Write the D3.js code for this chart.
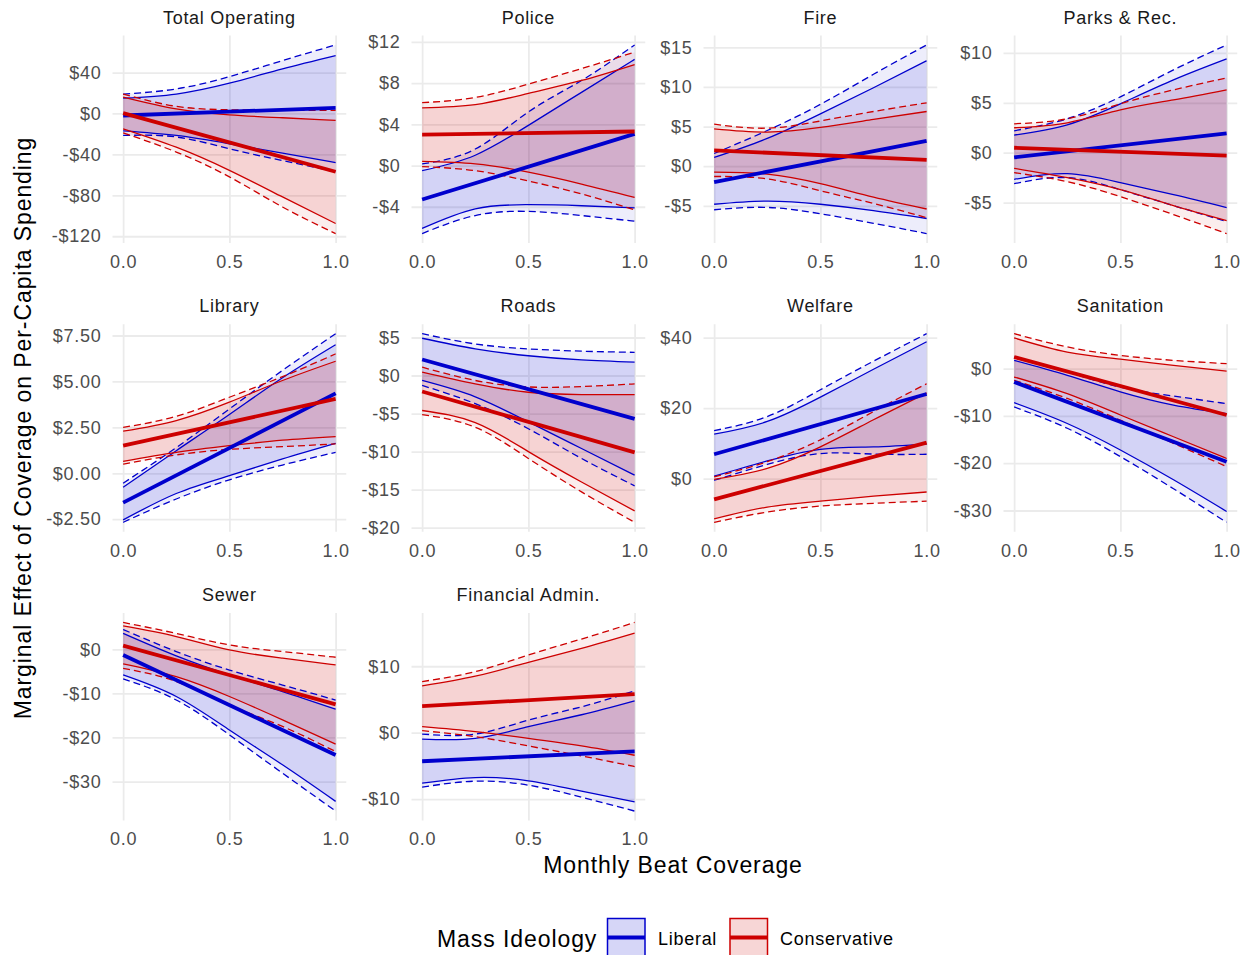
<!DOCTYPE html>
<html>
<head>
<meta charset="utf-8">
<script src="https://cdn.jsdelivr.net/npm/d3@7"></script>
<style>
  body { margin: 0; background: #fff; }
  text { font-family: "Liberation Sans", Arial, sans-serif; letter-spacing: 0.04em; }
</style>
</head>
<body>
<div id="chart"></div>
<script>
var panels = ["Total Operating", "Police", "Fire", "Parks & Rec.", "Library",
  "Roads", "Welfare", "Sanitation", "Sewer", "Financial Admin."];

var xs = [0, 0.25, 0.5, 0.75, 1];
var xEnds = [0, 1];
var xTicks = [0, 0.5, 1];

var yTicks = [
  [-120, -80, -40, 0, 40],
  [-4, 0, 4, 8, 12],
  [-5, 0, 5, 10, 15],
  [-5, 0, 5, 10],
  [-2.5, 0, 2.5, 5, 7.5],
  [-20, -15, -10, -5, 0, 5],
  [0, 20, 40],
  [-30, -20, -10, 0],
  [-30, -20, -10, 0],
  [-10, 0, 10]
];

// liberal estimates (straight line, x = 0 and 1)
var libEst = [[-2, 5.5], [-3.3, 3.07], [-2.0, 3.2], [-0.47, 1.93], [-1.6, 4.35],
  [2.1, -5.7], [6.9, 24], [-2.8, -19.7], [-1.3, -24.0], [-4.3, -2.8]];
var libHi90 = [[15, 19, 29.6, 43.6, 56.6], [-0.5, 1.0, 3.9, 7.1, 10.3], [1.1, 3.5, 6.6, 9.9, 13.3],
  [1.77, 2.8, 4.9, 7.3, 9.4], [-0.76, 1.23, 3.2, 5.2, 7.0], [4.9, 3.5, 2.6, 2.05, 1.75],
  [12.6, 16.2, 23.1, 31.0, 38.8], [1.76, -1.4, -4.9, -7.7, -9.5], [3.6, -1.5, -5.8, -9.6, -13.6],
  [-0.96, -0.86, 0.9, 2.7, 4.8]];
var libHi95 = [[19, 24, 36, 51.7, 67], [0.16, 1.6, 5.2, 8.25, 11.7], [1.6, 4.5, 7.8, 11.6, 15.3],
  [2.2, 3.4, 5.6, 8.3, 10.8], [-0.54, 1.4, 3.5, 5.6, 7.6], [5.5, 4.15, 3.5, 3.2, 3.05],
  [13.6, 17.6, 25.2, 33.3, 41.1], [2.46, -0.7, -3.9, -5.8, -7.4], [4.5, -0.5, -4.7, -8.1, -11.5],
  [-0.2, -0.2, 1.9, 3.9, 6.3]];
var libLo90 = [[-17, -21.5, -29.6, -38.7, -48], [-6.1, -4.2, -3.8, -3.9, -4.1], [-4.8, -4.4, -4.8, -5.6, -6.6],
  [-2.67, -2.1, -3.0, -4.2, -5.5], [-2.54, -1.1, -0.13, 0.78, 1.63], [-0.65, -2.8, -6.1, -9.6, -13.1],
  [0.67, 5.0, 8.3, 9.0, 9.8], [-7.2, -11.6, -17.2, -23.5, -30.2], [-5.8, -10.7, -18.3, -26.2, -34.5],
  [-7.6, -6.75, -7.25, -8.8, -10.4]];
var libLo95 = [[-21.5, -23, -34.5, -46, -57], [-6.6, -4.85, -4.45, -4.85, -5.4], [-5.5, -5.2, -6.0, -7.2, -8.5],
  [-3.1, -2.5, -3.7, -5.3, -6.9], [-2.67, -1.4, -0.36, 0.45, 1.14], [-1.3, -3.7, -7.0, -10.9, -14.5],
  [-0.5, 4.0, 7.1, 6.95, 6.9], [-8.1, -12.6, -18.6, -25.4, -32.5], [-6.7, -11.5, -19.4, -28.1, -36.7],
  [-8.2, -7.3, -7.9, -9.7, -11.8]];

// conservative estimates
var conEst = [[0.3, -57], [3.0, 3.3], [2.0, 0.8], [0.5, -0.3], [1.5, 4.05],
  [-2.1, -10.1], [-5.9, 10.2], [2.46, -9.8], [0.83, -12.5], [4.0, 5.8]];
var conHi90 = [[16, 4.5, -1.3, -4.2, -6.8], [5.6, 5.9, 7.0, 8.25, 9.8], [4.7, 4.3, 4.9, 5.9, 6.9],
  [2.5, 3.0, 4.3, 5.3, 6.3], [2.29, 2.87, 3.87, 5.05, 6.1], [0.44, -1.1, -2.2, -2.5, -2.5],
  [-0.2, 2.9, 9.0, 16.7, 24.3], [6.5, 3.5, 2.0, 0.7, -0.5], [5.3, 2.9, -0.15, -2.0, -3.55],
  [7.05, 8.5, 10.6, 12.7, 15.0]];
var conHi95 = [[19, 7, 3.6, 3, 3], [6.1, 6.6, 7.9, 9.4, 11.0], [5.3, 4.8, 5.7, 6.9, 8.0],
  [2.9, 3.4, 4.9, 6.3, 7.5], [2.5, 3.1, 4.14, 5.26, 6.5], [1.1, -0.65, -1.5, -1.45, -1.1],
  [0.5, 4.8, 11.0, 19.0, 26.9], [7.4, 4.6, 2.8, 1.76, 1.05], [6.1, 3.6, 1.0, -0.5, -1.8],
  [7.7, 9.2, 11.7, 14.1, 16.6]];
var conLo90 = [[-15, -33, -55.6, -81.6, -107.6], [0.4, 0.16, -0.65, -1.8, -3.1], [-0.75, -1.0, -2.2, -3.9, -5.4],
  [-1.57, -2.5, -3.7, -5.3, -6.8], [0.65, 1.14, 1.5, 1.8, 2.0], [-4.6, -6.2, -10.0, -14.0, -17.8],
  [-11.4, -8.1, -6.4, -5.0, -3.8], [-1.76, -5.3, -9.8, -14.4, -19.0], [-3.3, -6.2, -10.7, -16.0, -21.5],
  [0.9, 0.15, -0.86, -2.0, -3.4]];
var conLo95 = [[-19, -37.7, -62, -91.4, -117.4], [-0.1, -0.5, -1.5, -2.75, -4.3], [-1.3, -1.6, -3.1, -4.7, -6.5],
  [-2.0, -2.9, -4.4, -6.2, -8.1], [0.5, 1.0, 1.3, 1.45, 1.6], [-5.15, -6.8, -10.9, -15.3, -19.3],
  [-12.4, -9.5, -7.8, -7.0, -6.4], [-2.46, -6.3, -10.9, -15.8, -20.7], [-4.3, -7.3, -12.6, -17.5, -23.2],
  [0.3, -0.6, -2.0, -3.5, -5.1]];

var groups = ["Liberal", "Conservative"];

var svgWidth = 1250;
var svgHeight = 955;
var colLeft = [112.5, 411.5, 703.5, 1003.5];
var rowTop = [35.5, 324.25, 613];
var panelW = 233.75;
var panelH = 207.5;
var blue = "#0000CD";
var red = "#CD0000";

var svg = d3.select("#chart")
  .append("svg")
  .attr("width", svgWidth)
  .attr("height", svgHeight);

function dollar(decimals) {
  return function(v) {
    var s = "$" + Math.abs(v).toFixed(decimals);
    return v < 0 ? "-" + s : s;
  };
}

panels.forEach(function(name, i) {
  var left = colLeft[i % 4];
  var top = rowTop[Math.floor(i / 4)];
  var g = svg.append("g").attr("transform", `translate(${left}, ${top})`);

  var all = [].concat(libHi95[i], libLo95[i], libHi90[i], libLo90[i], libEst[i],
    conHi95[i], conLo95[i], conHi90[i], conLo90[i], conEst[i]);
  var ext = d3.extent(all);
  var pad = (ext[1] - ext[0]) * 0.05;

  var x = d3.scaleLinear().domain([-0.05, 1.05]).range([0, panelW]);
  var y = d3.scaleLinear().domain([ext[0] - pad, ext[1] + pad]).range([panelH, 0]);

  var decimals = yTicks[i].some(function(t) { return t % 1 !== 0; }) ? 2 : 0;

  var yAxis = g.append("g")
    .call(d3.axisLeft(y).tickValues(yTicks[i]).tickSize(-panelW).tickPadding(11).tickFormat(dollar(decimals)));
  var xAxis = g.append("g")
    .attr("transform", `translate(0, ${panelH})`)
    .call(d3.axisBottom(x).tickValues(xTicks).tickSize(-panelH).tickPadding(12).tickFormat(d3.format(".1f")));

  [yAxis, xAxis].forEach(function(ax) {
    ax.select(".domain").remove();
    ax.selectAll("line").attr("stroke", "#EBEBEB").attr("stroke-width", 1.8);
    ax.selectAll("text")
      .attr("fill", "#4D4D4D")
      .attr("font-size", "18px")
      .attr("font-family", null);
  });

  g.append("text")
    .attr("x", panelW / 2)
    .attr("y", -12)
    .attr("text-anchor", "middle")
    .attr("font-size", "18px")
    .attr("fill", "#1A1A1A")
    .text(name);

  var series = [
    { color: blue, est: libEst[i], hi90: libHi90[i], lo90: libLo90[i], hi95: libHi95[i], lo95: libLo95[i] },
    { color: red, est: conEst[i], hi90: conHi90[i], lo90: conLo90[i], hi95: conHi95[i], lo95: conLo95[i] }
  ];

  var curve = d3.curveNatural;

  series.forEach(function(s) {
    var outer = d3.area()
      .x(function(d, j) { return x(xs[j]); })
      .y0(function(d, j) { return y(s.lo95[j]); })
      .y1(function(d) { return y(d); })
      .curve(curve);
    var inner = d3.area()
      .x(function(d, j) { return x(xs[j]); })
      .y0(function(d, j) { return y(s.lo90[j]); })
      .y1(function(d) { return y(d); })
      .curve(curve);
    g.append("path").attr("d", outer(s.hi95)).attr("fill", s.color).attr("fill-opacity", 0.07);
    g.append("path").attr("d", inner(s.hi90)).attr("fill", s.color).attr("fill-opacity", 0.11);
  });

  series.forEach(function(s) {
    var bound = d3.line()
      .x(function(d, j) { return x(xs[j]); })
      .y(function(d) { return y(d); })
      .curve(curve);
    [s.hi95, s.lo95].forEach(function(arr) {
      g.append("path").attr("d", bound(arr)).attr("fill", "none")
        .attr("stroke", s.color).attr("stroke-width", 1.3).attr("stroke-dasharray", "7,4");
    });
    [s.hi90, s.lo90].forEach(function(arr) {
      g.append("path").attr("d", bound(arr)).attr("fill", "none")
        .attr("stroke", s.color).attr("stroke-width", 1.3);
    });
  });

  series.forEach(function(s) {
    var estLine = d3.line()
      .x(function(d, j) { return x(xEnds[j]); })
      .y(function(d) { return y(d); });
    g.append("path").attr("d", estLine(s.est)).attr("fill", "none")
      .attr("stroke", s.color).attr("stroke-width", 3.8);
  });
});

// axis titles
svg.append("text")
  .attr("x", 673)
  .attr("y", 873)
  .attr("text-anchor", "middle")
  .attr("font-size", "23px")
  .attr("fill", "#000")
  .text("Monthly Beat Coverage");

svg.append("text")
  .attr("transform", "translate(31, 428) rotate(-90)")
  .attr("text-anchor", "middle")
  .attr("font-size", "23px")
  .attr("fill", "#000")
  .text("Marginal Effect of Coverage on Per-Capita Spending");

// legend
var legend = svg.append("g");
legend.append("text")
  .attr("x", 437)
  .attr("y", 947)
  .attr("font-size", "23px")
  .attr("fill", "#000")
  .text("Mass Ideology");

var keyX = [607.5, 730];
var labelX = [658, 780];
[blue, red].forEach(function(c, k) {
  legend.append("rect")
    .attr("x", keyX[k]).attr("y", 918.5)
    .attr("width", 37.5).attr("height", 40)
    .attr("fill", c).attr("fill-opacity", 0.16)
    .attr("stroke", c).attr("stroke-width", 1.5);
  legend.append("line")
    .attr("x1", keyX[k]).attr("x2", keyX[k] + 37.5)
    .attr("y1", 937.5).attr("y2", 937.5)
    .attr("stroke", c).attr("stroke-width", 3.8);
  legend.append("text")
    .attr("x", labelX[k])
    .attr("y", 945)
    .attr("font-size", "18px")
    .attr("fill", "#000")
    .text(groups[k]);
});
</script>
</body>
</html>
